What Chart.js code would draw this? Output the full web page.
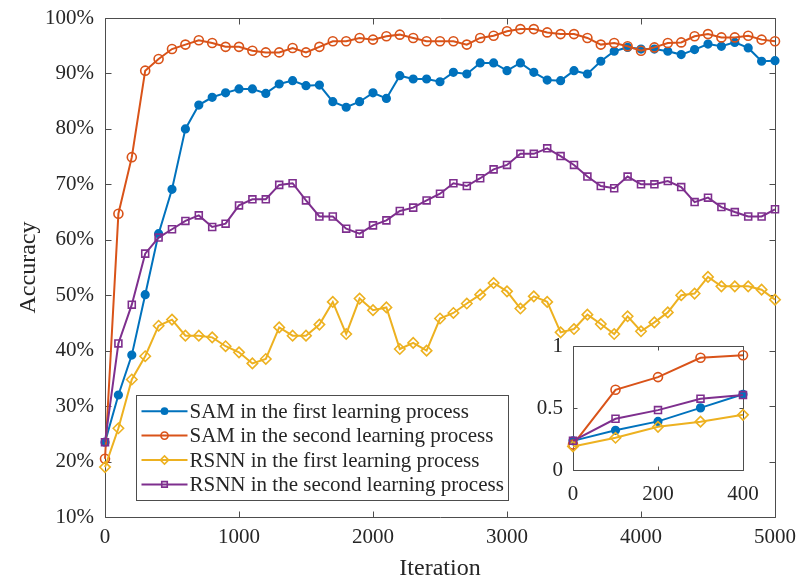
<!DOCTYPE html>
<html>
<head>
<meta charset="utf-8">
<script src="https://cdn.jsdelivr.net/npm/chart.js@4/dist/chart.umd.min.js"></script>
<style>
  html, body { margin: 0; padding: 0; background: #fff; }
  #wrap { position: relative; width: 798px; height: 581px; overflow: hidden; }
  #main { position: absolute; left: 0; top: 0; }
  #inset { position: absolute; left: 520px; top: 330px; }
</style>
</head>
<body>
<div id="wrap">
  <canvas id="main" width="798" height="581"></canvas>
  <canvas id="inset" width="265" height="180"></canvas>
</div>
<script>
// ---- data -------------------------------------------------------------
const iterations = [
  0, 100, 200, 300, 400, 500, 600, 700, 800, 900,
  1000, 1100, 1200, 1300, 1400, 1500, 1600, 1700, 1800, 1900,
  2000, 2100, 2200, 2300, 2400, 2500, 2600, 2700, 2800, 2900,
  3000, 3100, 3200, 3300, 3400, 3500, 3600, 3700, 3800, 3900,
  4000, 4100, 4200, 4300, 4400, 4500, 4600, 4700, 4800, 4900, 5000
];

// accuracy in percent
const samFirst = [
  23.5, 32.0, 39.2, 50.1, 61.1, 69.1, 80.0, 84.3, 85.7, 86.5,
  87.2, 87.2, 86.4, 88.1, 88.7, 87.8, 87.9, 84.9, 83.9, 84.9,
  86.5, 85.5, 89.6, 89.0, 89.0, 88.5, 90.2, 89.9, 91.9, 91.9,
  90.5, 91.9, 90.2, 88.8, 88.7, 90.5, 89.9, 92.2, 94.0, 94.7,
  94.4, 94.4, 94.0, 93.4, 94.3, 95.3, 94.9, 95.6, 94.6, 92.2, 92.3
];
const samSecond = [
  20.5, 64.7, 74.9, 90.5, 92.6, 94.4, 95.2, 96.0, 95.5, 94.8,
  94.8, 94.1, 93.8, 93.8, 94.6, 93.8, 94.8, 95.8, 95.8, 96.4,
  96.1, 96.7, 97.0, 96.4, 95.8, 95.8, 95.8, 95.2, 96.4, 96.8,
  97.6, 98.0, 98.0, 97.4, 97.1, 97.1, 96.4, 95.2, 95.5, 94.9,
  94.1, 94.7, 95.5, 95.6, 96.7, 97.1, 96.5, 96.5, 96.8, 96.1, 95.8
];
const rsnnFirst = [
  19.0, 26.0, 34.8, 39.0, 44.5, 45.6, 42.7, 42.7, 42.4, 40.8,
  39.7, 37.7, 38.5, 44.2, 42.7, 42.7, 44.7, 48.8, 43.0, 49.4,
  47.3, 47.8, 40.3, 41.4, 40.0, 45.8, 46.8, 48.5, 50.1, 52.2,
  50.7, 47.6, 49.8, 48.8, 43.3, 43.9, 46.5, 44.8, 43.0, 46.2,
  43.5, 45.1, 46.9, 50.0, 50.3, 53.3, 51.6, 51.6, 51.6, 51.0, 49.2
];
const rsnnSecond = [
  23.5, 41.3, 48.3, 57.5, 60.4, 61.9, 63.4, 64.4, 62.3, 62.9,
  66.2, 67.3, 67.3, 69.9, 70.2, 67.1, 64.2, 64.2, 62.0, 61.1,
  62.6, 63.5, 65.2, 65.8, 67.1, 68.3, 70.2, 69.7, 71.1, 72.7,
  73.5, 75.5, 75.5, 76.5, 75.1, 73.5, 71.4, 69.7, 69.3, 71.4,
  70.0, 70.0, 70.6, 69.5, 66.8, 67.6, 65.9, 65.0, 64.2, 64.2, 65.5
];

const seriesLabels = [
  'SAM in the first learning process',
  'SAM in the second learning process',
  'RSNN in the first learning process',
  'RSNN in the second learning process'
];

// the zoomed panel shows the first iterations as fractions
const insetPoints = 5;

// ---- styling ----------------------------------------------------------
const FONT = '"Liberation Serif", "Times New Roman", Times, serif';
const TEXT = '#262626';
const AXIS = '#4d4d4d';
Chart.defaults.font.family = FONT;
Chart.defaults.color = TEXT;

const seriesStyles = [
  { color: '#0072BD', pointStyle: 'circle',  radius: 3.8, fill: '#0072BD' },
  { color: '#D95319', pointStyle: 'circle',  radius: 4.5, fill: 'rgba(0,0,0,0)' },
  { color: '#EDB120', pointStyle: 'rectRot', radius: 5.2, fill: 'rgba(0,0,0,0)' },
  { color: '#7E2F8E', pointStyle: 'rect',    radius: 4.9, fill: 'rgba(0,0,0,0)' }
];

function makeDatasets(count, factor) {
  return [samFirst, samSecond, rsnnFirst, rsnnSecond].map((vals, i) => {
    const s = seriesStyles[i];
    return {
      label: seriesLabels[i],
      data: vals.slice(0, count).map((v, j) => ({ x: iterations[j], y: v * factor })),
      borderColor: s.color,
      borderWidth: 2,
      pointStyle: s.pointStyle,
      pointRadius: s.radius,
      pointBorderWidth: 1.6,
      pointBorderColor: s.color,
      pointBackgroundColor: s.fill,
      tension: 0,
      clip: false,
      order: 3 - i   // later series painted on top
    };
  });
}

// keep the plot box exactly where the layout padding puts it
const noLabelPadY = s => { s.paddingTop = 0; s.paddingBottom = 0; };
const noLabelPadX = s => { s.paddingLeft = 0; s.paddingRight = 0; };

// box frame with inward tick marks on all four sides
function frameWithTicks(len, fillWhite) {
  return {
    id: 'frameWithTicks',
    beforeDatasetsDraw(chart) {
      const { ctx, chartArea: a, scales } = chart;
      const L = Math.round(a.left) + 0.5, R = Math.round(a.right) + 0.5;
      const T = Math.round(a.top) + 0.5, B = Math.round(a.bottom) + 0.5;
      ctx.save();
      if (fillWhite) {
        ctx.fillStyle = '#fff';
        ctx.fillRect(L, T, R - L, B - T);
      }
      ctx.strokeStyle = AXIS;
      ctx.lineWidth = 1;
      ctx.beginPath();
      scales.x.ticks.forEach(t => {
        const p = Math.round(scales.x.getPixelForValue(t.value)) + 0.5;
        ctx.moveTo(p, B); ctx.lineTo(p, B - len);
        ctx.moveTo(p, T); ctx.lineTo(p, T + len);
      });
      scales.y.ticks.forEach(t => {
        const p = Math.round(scales.y.getPixelForValue(t.value)) + 0.5;
        ctx.moveTo(L, p); ctx.lineTo(L + len, p);
        ctx.moveTo(R, p); ctx.lineTo(R - len, p);
      });
      ctx.rect(L, T, R - L, B - T);
      ctx.stroke();
      ctx.restore();
    }
  };
}

// legend box inside the lower-left of the plot area
const boxLegend = {
  id: 'boxLegend',
  afterDraw(chart, args, o) {
    const { ctx, chartArea: a } = chart;
    const sets = chart.data.datasets;
    ctx.save();
    ctx.font = o.fontSize + 'px ' + FONT;
    const textW = Math.max(...sets.map(d => ctx.measureText(d.label).width));
    const w = o.padLeft + o.sampleWidth + o.gap + textW + o.padRight;
    const h = o.padY * 2 + o.rowHeight * sets.length;
    const left = Math.round(a.left + o.offsetLeft) + 0.5;
    const top = Math.round(a.bottom - o.offsetBottom - h) + 0.5;
    ctx.fillStyle = '#fff';
    ctx.fillRect(left, top, w, h);
    ctx.strokeStyle = AXIS;
    ctx.lineWidth = 1;
    ctx.strokeRect(left, top, Math.round(w), Math.round(h));
    sets.forEach((d, i) => {
      const cy = top + o.padY + o.rowHeight * (i + 0.5);
      const x0 = left + o.padLeft, x1 = x0 + o.sampleWidth;
      ctx.strokeStyle = d.borderColor;
      ctx.lineWidth = d.borderWidth;
      ctx.beginPath(); ctx.moveTo(x0, cy); ctx.lineTo(x1, cy); ctx.stroke();
      ctx.fillStyle = d.pointBackgroundColor;
      ctx.strokeStyle = d.pointBorderColor;
      ctx.lineWidth = d.pointBorderWidth;
      Chart.helpers.drawPoint(ctx, {
        pointStyle: d.pointStyle, radius: d.pointRadius * 0.8,
        borderWidth: d.pointBorderWidth, rotation: 0
      }, (x0 + x1) / 2, cy);
      ctx.fillStyle = TEXT;
      ctx.textAlign = 'left';
      ctx.textBaseline = 'middle';
      ctx.fillText(d.label, x1 + o.gap, cy + 1);
    });
    ctx.restore();
  }
};

// ---- main chart -------------------------------------------------------
new Chart(document.getElementById('main'), {
  type: 'line',
  data: { datasets: makeDatasets(iterations.length, 1) },
  options: {
    responsive: false,
    animation: false,
    devicePixelRatio: 1,
    events: [],
    layout: { padding: { top: 18, right: 23, left: 0, bottom: 0 } },
    plugins: {
      legend: { display: false },
      tooltip: { enabled: false },
      boxLegend: {
        fontSize: 21, rowHeight: 24.4, padY: 3.5,
        padLeft: 5, sampleWidth: 46, gap: 2, padRight: 5,
        offsetLeft: 31, offsetBottom: 17
      }
    },
    scales: {
      x: {
        type: 'linear', min: 0, max: 5000,
        afterFit: s => { s.height = 64; noLabelPadX(s); },
        grid: { display: false, drawTicks: false },
        border: { display: false },
        ticks: { stepSize: 1000, padding: 8, maxRotation: 0, autoSkip: false,
                 font: { size: 21 }, color: TEXT, callback: v => String(v) },
        title: { display: true, text: 'Iteration', color: TEXT,
                 font: { size: 24, lineHeight: 1 }, padding: { top: 0, bottom: 0 } }
      },
      y: {
        type: 'linear', min: 10, max: 100,
        afterFit: s => { s.width = 105; noLabelPadY(s); },
        grid: { display: false, drawTicks: false },
        border: { display: false },
        ticks: { stepSize: 10, padding: 11, font: { size: 21 }, color: TEXT,
                 callback: v => v + '%' },
        title: { display: true, text: 'Accuracy', color: TEXT,
                 font: { size: 24 }, padding: { top: 14, bottom: 0 } }
      }
    }
  },
  plugins: [frameWithTicks(6, false), boxLegend]
});

// ---- zoomed panel (first iterations) ----------------------------------
new Chart(document.getElementById('inset'), {
  type: 'line',
  data: { datasets: makeDatasets(insetPoints, 0.01) },
  options: {
    responsive: false,
    animation: false,
    devicePixelRatio: 1,
    events: [],
    layout: { padding: { top: 16, right: 42, left: 0, bottom: 0 } },
    plugins: { legend: { display: false }, tooltip: { enabled: false } },
    scales: {
      x: {
        type: 'linear', min: 0, max: 400,
        afterFit: s => { s.height = 40; noLabelPadX(s); },
        grid: { display: false, drawTicks: false },
        border: { display: false },
        ticks: { stepSize: 200, padding: 12, maxRotation: 0, autoSkip: false,
                 font: { size: 21 }, color: TEXT, callback: v => String(v) }
      },
      y: {
        type: 'linear', min: 0, max: 1,
        afterFit: s => { s.width = 53; noLabelPadY(s); },
        grid: { display: false, drawTicks: false },
        border: { display: false },
        ticks: { stepSize: 0.5, padding: 10, font: { size: 21 }, color: TEXT,
                 callback: v => String(v) }
      }
    }
  },
  plugins: [frameWithTicks(4, true)]
});
</script>
</body>
</html>
